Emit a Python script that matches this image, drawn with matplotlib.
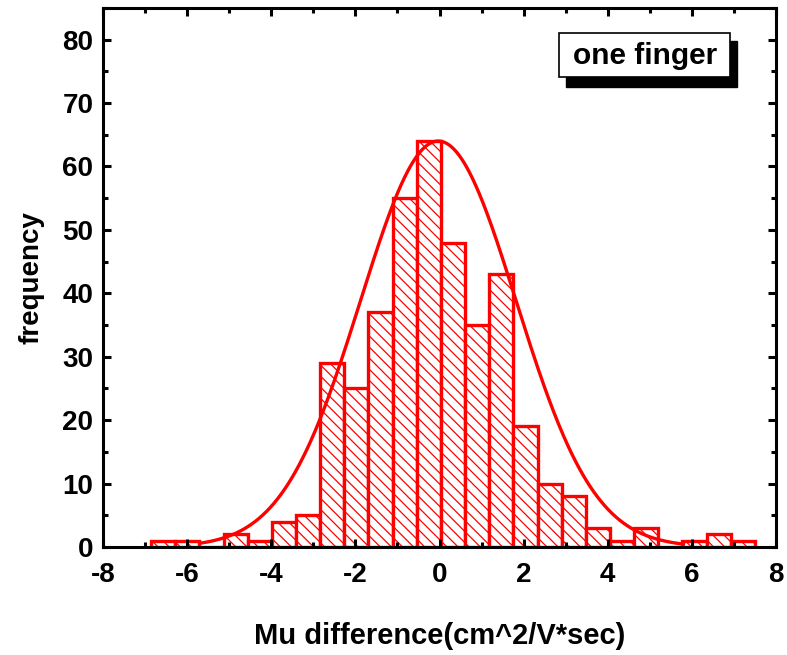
import matplotlib
matplotlib.use("Agg")
import matplotlib.pyplot as plt
from matplotlib.patches import Rectangle
from matplotlib.ticker import MultipleLocator
import numpy as np

plt.rcParams['font.family'] = ['Liberation Sans', 'DejaVu Sans']
plt.rcParams['font.weight'] = 'bold'
plt.rcParams['axes.unicode_minus'] = False
plt.rcParams['hatch.linewidth'] = 0.9

# histogram of mobility differences (25 equal bins)
bin_lo = -6.86
bin_hi = 7.50
counts = [1, 1, 0, 2, 1, 4, 5, 29, 25, 37, 55, 64, 48, 35, 43,
          19, 10, 8, 3, 1, 3, 0, 1, 2, 1]

# gaussian fit parameters
fit_peak = 64.0
fit_center = -0.03
fit_sigma = 1.85
fit_range = (-5.7, 5.8)

edges = np.linspace(bin_lo, bin_hi, len(counts) + 1)
width = edges[1] - edges[0]

fig = plt.figure(figsize=(7.87, 6.55), dpi=100)
ax = fig.add_axes([0.131, 0.165, 0.855, 0.823])

ax.bar(edges[:-1], counts, width=width, align='edge', facecolor='white',
       edgecolor='red', linewidth=2.4, hatch='\\\\\\', zorder=1)

xf = np.linspace(fit_range[0], fit_range[1], 400)
yf = fit_peak * np.exp(-(xf - fit_center) ** 2 / (2 * fit_sigma ** 2))
ax.plot(xf, yf, color='red', lw=2.4, zorder=2)

ax.set_xlim(-8, 8)
ax.set_ylim(0, 85)
ax.xaxis.set_major_locator(MultipleLocator(2))
ax.xaxis.set_minor_locator(MultipleLocator(1))
ax.yaxis.set_major_locator(MultipleLocator(10))
ax.yaxis.set_minor_locator(MultipleLocator(5))
ax.tick_params(which='both', direction='in', top=True, right=True, width=2.2)
ax.tick_params(axis='x', labelsize=20, pad=11)
ax.tick_params(axis='y', labelsize=20, pad=7)
ax.tick_params(which='major', length=6)
ax.tick_params(which='minor', length=3.5)
for s in ax.spines.values():
    s.set_linewidth(2.2)

ax.set_xlabel('Mu difference(cm^2/V*sec)', fontsize=21, fontweight='bold', labelpad=24)
ax.set_ylabel('frequency', fontsize=20, fontweight='bold', labelpad=13)

# label box with drop shadow
ax.add_patch(Rectangle((0.688, 0.854), 0.254, 0.085, transform=ax.transAxes,
                       facecolor='black', edgecolor='black', zorder=5))
ax.add_patch(Rectangle((0.678, 0.871), 0.254, 0.082, transform=ax.transAxes,
                       facecolor='white', edgecolor='black', lw=1.2, zorder=6))
ax.text(0.805, 0.911, 'one finger', transform=ax.transAxes, fontsize=21.5,
        fontweight='bold', ha='center', va='center', zorder=7)

fig.savefig('out.png', dpi=100)
